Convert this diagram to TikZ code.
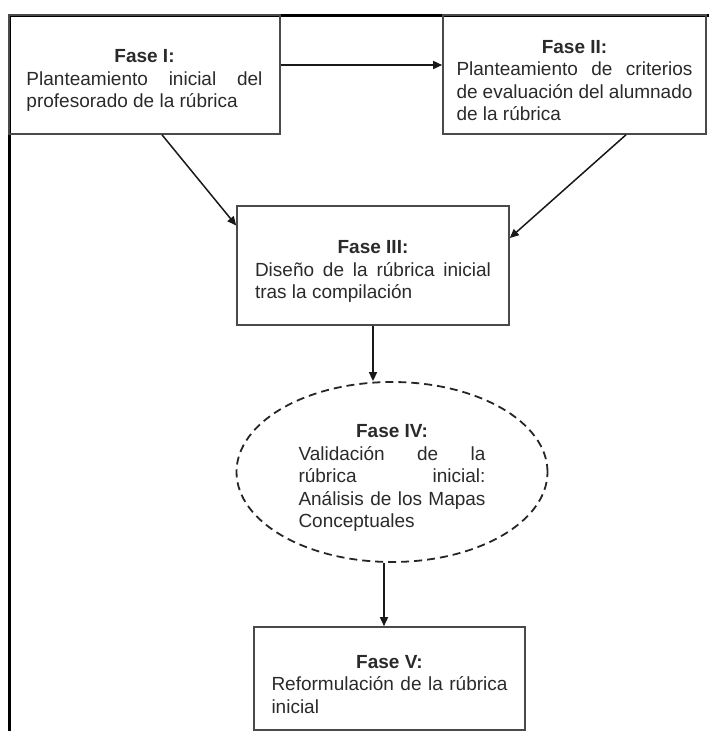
\documentclass[tikz,border=0pt]{standalone}
\usepackage{fontspec}
\setmainfont{Liberation Sans}
\usepackage{tikz}
\usetikzlibrary{positioning, arrows, arrows.meta, shapes.geometric}
\definecolor{boxline}{HTML}{4A4A4A}
\definecolor{boxtext}{HTML}{2A2A2A}
\newcommand{\fasetxt}[3]{\parbox{#1}{\vspace*{12pt}\hyphenpenalty=10000
  {\centering\textbf{#2}\par}#3}}

\begin{document}
\begin{tikzpicture}[x=1pt, y=-1pt,
  fase/.style={draw=boxline, line width=1.6pt, rectangle, minimum height=119pt,
    inner sep=0pt, text=boxtext, font=\fontsize{19}{22.5}\selectfont},
  fasedash/.style={draw=black!85, line width=1.8pt, ellipse, dash pattern=on 8pt off 5pt,
    minimum width=311pt, minimum height=180pt, inner sep=0pt,
    text=boxtext, font=\fontsize{19}{22.5}\selectfont},
  arr/.style={line width=1.5pt, black!90, -{Triangle[length=9pt, width=8pt]}}]

\useasboundingbox (0,0) rectangle (709,731);

\coordinate (C1) at (144.5, 74.5);
\coordinate (C2) at (574.5, 74.5);
\coordinate (C3) at (373, 265.5);
\coordinate (C4) at (392, 472);
\coordinate (C5) at (389.5, 678.5);

% page frame
\draw[line width=3pt] (9,731) -- (9,15) -- (709,15);

\node[fase, minimum width=271pt] (F1) at (C1)
  {\fasetxt{236pt}{Fase I:}{Planteamiento inicial del\linebreak profesorado de la rúbrica}};
\node[fase, minimum width=263pt] (F2) at (C2)
  {\fasetxt{236pt}{Fase II:}{Planteamiento de criterios\linebreak de evaluación del alumnado\linebreak de la rúbrica}};
\node[fase, minimum width=272pt] (F3) at (C3)
  {\fasetxt{236pt}{Fase III:}{Diseño de la rúbrica inicial\linebreak tras la compilación}};
\node[fasedash] (F4) at (C4)
  {\fasetxt{187pt}{Fase IV:}{Validación de la\linebreak rúbrica inicial:\linebreak Análisis de los Mapas\linebreak Conceptuales}};
\node[fase, minimum width=271pt, minimum height=103pt] (F5) at (C5)
  {\fasetxt{236pt}{Fase V:}{Reformulación de la rúbrica\linebreak inicial}};

\draw[arr] ([yshift=9.5pt]F1.east) -- ([yshift=9.5pt]F2.west);
\draw[arr] ([xshift=17.5pt]F1.south) -- ([yshift=40pt]F3.west);
\draw[arr] ([xshift=51.5pt]F2.south) -- ([yshift=27.5pt]F3.east);
\draw[arr] (F3.south) -- (F3.south |- F4.north);
\draw[arr] ([xshift=-5.5pt]F5.north |- F4.south) -- ([xshift=-5.5pt]F5.north);
\end{tikzpicture}
\end{document}
